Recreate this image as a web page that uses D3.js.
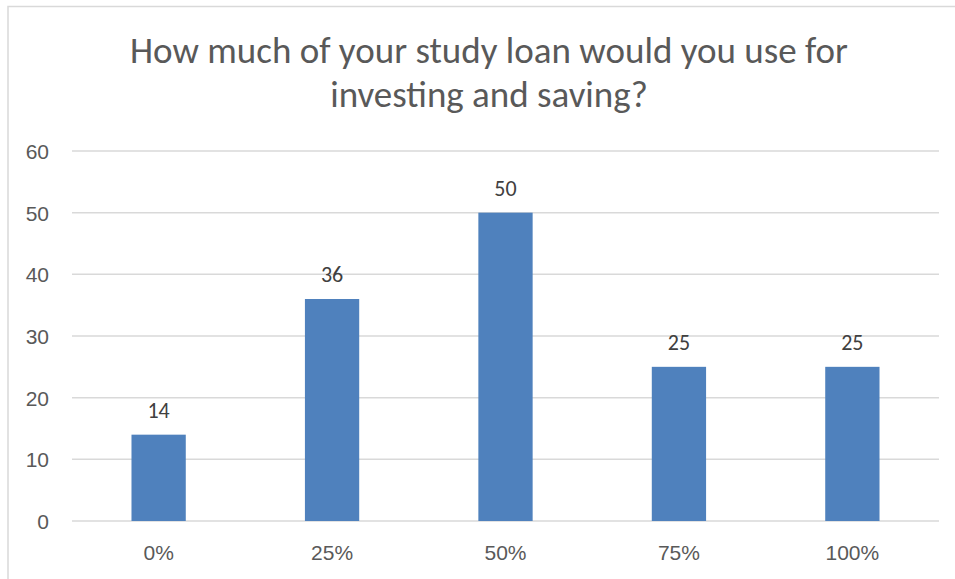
<!DOCTYPE html>
<meta charset="utf-8">
<style>
body { margin: 0; background: #fff; }
svg { display: block; font-family: Carlito, "Open Sans", sans-serif; }
.grid line { stroke: #d9d9d9; stroke-width: 1.5; }
.axis text { fill: #595959; font-size: 21px; }
</style>
<script src="https://d3js.org/d3.v7.min.js"></script>
<svg width="955" height="579"></svg>
<script>

var categories = ["0%", "25%", "50%", "75%", "100%"];
var counts = [14, 36, 50, 25, 25];
var yTicks = [0, 10, 20, 30, 40, 50, 60];
var titleLines = ["How much of your study loan would you use for", "investing and saving?"];

var svg = d3.select("svg"),
    width = +svg.attr("width"),
    height = +svg.attr("height");

var margin = {top: 151, right: 16, bottom: 58, left: 72};

var x = d3.scaleBand()
    .domain(categories)
    .range([margin.left, width - margin.right])
    .paddingInner(0.687)
    .paddingOuter(0.343);

var y = d3.scaleLinear()
    .domain([0, 60])
    .range([height - margin.bottom, margin.top]);

// chart frame
svg.append("rect")
    .attr("x", 8)
    .attr("y", 6.5)
    .attr("width", 960)
    .attr("height", 600)
    .attr("fill", "none")
    .attr("stroke", "#d9d9d9")
    .attr("stroke-width", 1.5);

svg.append("text")
    .attr("fill", "#595959")
    .attr("text-anchor", "middle")
    .style("font-size", "37px")
    .selectAll("tspan")
    .data(titleLines)
    .enter().append("tspan")
    .attr("x", 489)
    .attr("y", function(d, i) { return 63 + i * 44; })
    .text(function(d) { return d; });

// gridlines
svg.append("g")
    .attr("class", "grid")
    .selectAll("line")
    .data(yTicks)
    .enter().append("line")
    .attr("x1", margin.left)
    .attr("x2", width - margin.right)
    .attr("y1", function(d) { return y(d); })
    .attr("y2", function(d) { return y(d); });

svg.append("g")
    .attr("class", "axis")
    .attr("transform", "translate(" + (margin.left - 23) + ",0)")
    .call(d3.axisLeft(y).tickValues(yTicks).tickSize(0).tickPadding(0))
    .call(function(g) { g.select(".domain").remove(); })
    .selectAll("text")
    .attr("dy", "0.35em");

svg.append("g")
    .attr("class", "axis")
    .attr("transform", "translate(0," + (height - margin.bottom) + ")")
    .call(d3.axisBottom(x).tickSize(0).tickPadding(24))
    .call(function(g) { g.select(".domain").remove(); });

svg.append("g")
    .selectAll("rect")
    .data(counts)
    .enter().append("rect")
    .attr("x", function(d, i) { return x(categories[i]); })
    .attr("y", function(d) { return y(d); })
    .attr("width", x.bandwidth())
    .attr("height", function(d) { return y(0) - y(d); })
    .attr("fill", "#4f81bd");

svg.append("g")
    .selectAll("text")
    .data(counts)
    .enter().append("text")
    .attr("x", function(d, i) { return x(categories[i]) + x.bandwidth() / 2; })
    .attr("y", function(d) { return y(d) - 17; })
    .attr("text-anchor", "middle")
    .attr("fill", "#404040")
    .style("font-size", "22px")
    .text(function(d) { return d; });

</script>
